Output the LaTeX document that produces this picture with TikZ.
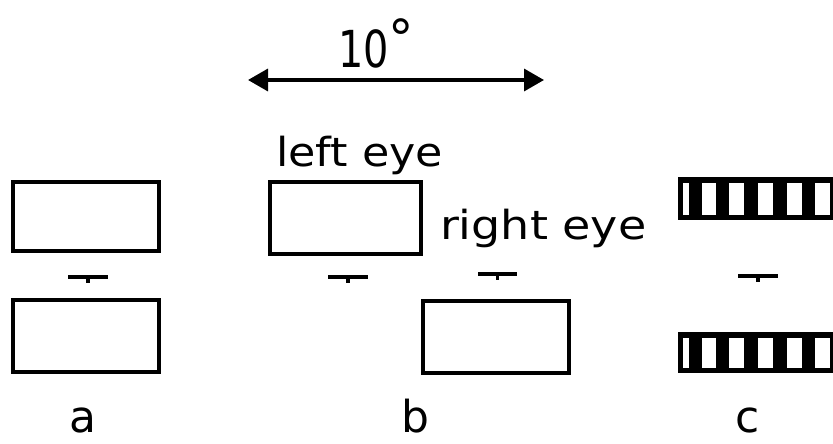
\documentclass[tikz,border=0pt]{standalone}
\usepackage{fontspec}
\setmainfont{DejaVu Sans}
\usetikzlibrary{arrows.meta}
\tikzset{
  eyebox/.style={draw=black, line width=3.5pt, inner sep=0pt, outer sep=0pt, minimum width=#1},
  crossline/.style={line width=3.5pt},
  lbl/.style={inner sep=0pt, outer sep=0pt, font=\fontsize{44pt}{44pt}\selectfont, anchor=base},
  eyetxt/.style={inner sep=0pt, outer sep=0pt, font=\fontsize{40pt}{40pt}\selectfont, anchor=base west},
}
\newcommand{\fixcross}[3]{% x1 x2 y, tick at middle
  \draw[crossline] (#1,#3) -- (#2,#3);
  \draw[line width=3.5pt] ({(#1+#2)/2},{#3-2}) -- ({(#1+#2)/2},{#3+6});
}
\newcommand{\stripebar}[2]{% top y, bottom y
  \fill[black] (678,#1) rectangle (833,#2);
  \foreach \xa/\xb in {683/689, 702/716, 729/744, 758/773, 787/802, 815/830}{
    \fill[white] (\xa,{#1+6}) rectangle (\xb,{#2-5});
  }
}
\begin{document}
\begin{tikzpicture}[x=1pt,y=-1pt]
\useasboundingbox (0,0) rectangle (833,444);
\fill[white] (0,0) rectangle (833,444);
% panel a
\node[eyebox=146pt, minimum height=69pt] (atop) at (86,216.5) {};
\node[eyebox=146pt, minimum height=72pt] (abot) at (86,336) {};
\fixcross{68}{108}{277}
% panel b
\node[eyebox=151pt, minimum height=72pt] (left) at (345.5,218) {};
\node[eyebox=146pt, minimum height=72pt] (right) at (496,337) {};
\fixcross{328}{368}{277}
\fixcross{478}{517}{274}
% panel c
\stripebar{177}{220}
\stripebar{332}{373}
\fixcross{738}{778}{276}
% 10 degree arrow
\coordinate (arl) at (248,80);
\coordinate (arr) at (544,80);
\draw[line width=3.5pt, {Triangle[length=20pt,width=22pt]}-{Triangle[length=20pt,width=22pt]}] (arl) -- (arr);
\node[inner sep=0pt, anchor=base west, font=\fontsize{51pt}{51pt}\selectfont] (deg) at (338,67) {\scalebox{0.78}[1]{10}\raisebox{11pt}{°}};
% texts
\node[eyetxt] (lefttxt) at (276,166) {\scalebox{1.11}[1]{left eye}};
\node[eyetxt] (righttxt) at (440,239) {\scalebox{1.15}[1]{right eye}};
\node[lbl] (la) at (83,432) {a};
\node[lbl] (lb) at (415,432) {b};
\node[lbl] (lc) at (748,432) {c};
\end{tikzpicture}
\end{document}
